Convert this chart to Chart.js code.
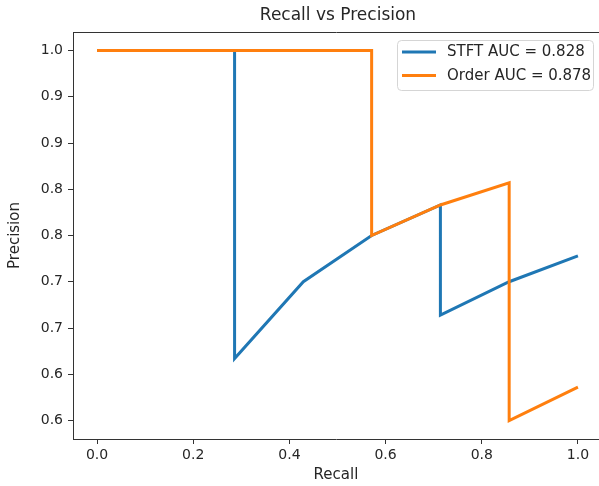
<!DOCTYPE html>
<html>
<head>
<meta charset="utf-8">
<script src="https://cdn.jsdelivr.net/npm/chart.js@4.4.1/dist/chart.umd.min.js"></script>
<style>
html,body{margin:0;padding:0;background:#fff;}
canvas{display:block;}
</style>
</head>
<body>
<canvas id="c" width="599" height="486"></canvas>
<script>
// ---- data ----
const titleText = "Recall vs Precision";
const xAxisLabel = "Recall";
const yAxisLabel = "Precision";
const stftLabel = "STFT AUC = 0.828";
const orderLabel = "Order AUC = 0.878";
const stftRecall    = [0, 0.143, 0.286, 0.286, 0.429, 0.571, 0.714, 0.714, 0.857, 1.0];
const stftPrecision = [1.0, 1.0, 1.0, 0.667, 0.75, 0.8, 0.833, 0.714, 0.75, 0.778];
const orderRecall    = [0, 0.571, 0.571, 0.714, 0.857, 0.857, 1.0];
const orderPrecision = [1.0, 1.0, 0.8, 0.833, 0.857, 0.6, 0.636];
const xTicks = [0.0, 0.2, 0.4, 0.6, 0.8, 1.0];
const yTicks = [0.6, 0.65, 0.7, 0.75, 0.8, 0.85, 0.9, 0.95, 1.0];

const BLUE = '#1f77b4', ORANGE = '#ff7f0e';
const FONT = "'DejaVu Sans', sans-serif";
const TXT = '#262626';

function pts(xs, ys){ return xs.map((x,i)=>({x:x, y:ys[i]})); }

const framePlugin = {
  id: 'frame',
  afterDraw(chart){
    const ctx = chart.ctx, a = chart.chartArea;
    ctx.save();
    // top spine
    ctx.strokeStyle = '#333'; ctx.lineWidth = 1;
    ctx.beginPath(); ctx.moveTo(a.left, a.top + 0.5); ctx.lineTo(a.right + 5, a.top + 0.5); ctx.stroke();
    // title
    ctx.fillStyle = TXT; ctx.font = "17px " + FONT;
    ctx.textAlign = 'center'; ctx.textBaseline = 'middle';
    ctx.fillText(titleText, 338, 16);
    // legend
    const bx = 397.5, by = 40.5, bw = 196, bh = 50, r = 4;
    ctx.fillStyle = 'rgba(255,255,255,0.8)';
    ctx.strokeStyle = '#d5d5d5'; ctx.lineWidth = 1;
    ctx.beginPath();
    ctx.moveTo(bx + r, by); ctx.lineTo(bx + bw - r, by); ctx.arcTo(bx + bw, by, bx + bw, by + r, r);
    ctx.lineTo(bx + bw, by + bh - r); ctx.arcTo(bx + bw, by + bh, bx + bw - r, by + bh, r);
    ctx.lineTo(bx + r, by + bh); ctx.arcTo(bx, by + bh, bx, by + bh - r, r);
    ctx.lineTo(bx, by + r); ctx.arcTo(bx, by, bx + r, by, r);
    ctx.closePath(); ctx.fill(); ctx.stroke();
    const items = chart.data.datasets;
    ctx.font = "15px " + FONT; ctx.textAlign = 'left'; ctx.textBaseline = 'middle';
    items.forEach((d, i) => {
      const y = 52 + i * 23.5;
      ctx.strokeStyle = d.borderColor; ctx.lineWidth = 3; ctx.lineCap = 'butt';
      ctx.beginPath(); ctx.moveTo(402, y); ctx.lineTo(436, y); ctx.stroke();
      ctx.fillStyle = TXT;
      ctx.fillText(d.label, 447, y + 0.5);
    });
    ctx.restore();
  }
};

new Chart(document.getElementById('c'), {
  type: 'line',
  data: {
    datasets: [
      { label: stftLabel, data: pts(stftRecall, stftPrecision), borderColor: BLUE, backgroundColor: BLUE,
        borderWidth: 3, pointRadius: 0, tension: 0, fill: false, order: 1, borderJoinStyle: 'miter' },
      { label: orderLabel, data: pts(orderRecall, orderPrecision), borderColor: ORANGE, backgroundColor: ORANGE,
        borderWidth: 3, pointRadius: 0, tension: 0, fill: false, order: 0, borderJoinStyle: 'miter' }
    ]
  },
  options: {
    responsive: false,
    animation: false,
    events: [],
    layout: { padding: { top: 32, right: 0, left: 0, bottom: 0 } },
    plugins: { legend: { display: false }, title: { display: false }, tooltip: { enabled: false } },
    scales: {
      x: {
        type: 'linear', min: -0.05, max: 1.0438,
        afterBuildTicks(s){ s.ticks = xTicks.map(v => ({value: v})); },
        afterFit(s){ s.height = 47; },
        grid: { drawOnChartArea: false, drawTicks: true, tickLength: 5, color: '#333' },
        border: { display: true, color: '#333', width: 1 },
        ticks: { color: TXT, font: { family: FONT, size: 14 }, padding: 3, maxRotation: 0,
                 callback: v => v.toFixed(1) },
        title: { display: true, text: xAxisLabel, color: TXT, font: { family: FONT, size: 15 }, padding: { top: 0, bottom: 2 } }
      },
      y: {
        type: 'linear', min: 0.58, max: 1.02,
        afterBuildTicks(s){ s.ticks = yTicks.map(v => ({value: v})); },
        afterFit(s){ s.width = 73; },
        grid: { drawOnChartArea: false, drawTicks: true, tickLength: 5, color: '#333' },
        border: { display: true, color: '#333', width: 1 },
        ticks: { color: TXT, font: { family: FONT, size: 14 }, padding: 5,
                 callback: v => (Math.floor(v * 10 + 1e-9) / 10).toFixed(1) },
        title: { display: true, text: yAxisLabel, color: TXT, font: { family: FONT, size: 15 }, padding: { top: 6, bottom: 0 } }
      }
    }
  },
  plugins: [framePlugin]
});
</script>
</body>
</html>
